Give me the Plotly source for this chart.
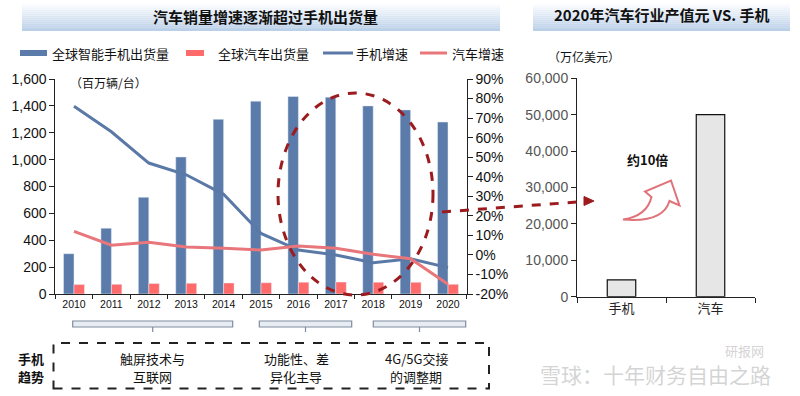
import plotly.graph_objects as go

# ---------------- data ----------------
years = ["2010", "2011", "2012", "2013", "2014", "2015", "2016", "2017", "2018", "2019", "2020"]
phone_ship = [300, 490, 720, 1020, 1300, 1435, 1470, 1465, 1400, 1370, 1280]
car_ship = [70, 72, 78, 80, 82, 84, 88, 89, 88, 87, 72]
phone_growth = [76, 63, 47, 41, 31, 11, 2.5, 0, -4, -2, -6.5]
car_growth = [12, 5, 6.5, 4, 3.4, 2.5, 4.6, 3.4, 0.3, -2, -15]

right_cats = ["手机", "汽车"]
right_vals = [4600, 50000]

left_yticks = [0, 200, 400, 600, 800, 1000, 1200, 1400, 1600]
pct_ticks = [-20, -10, 0, 10, 20, 30, 40, 50, 60, 70, 80, 90]
right_yticks = [0, 10000, 20000, 30000, 40000, 50000, 60000]

W, H = 800, 396
def X(x): return x / W
def Y(y): return 1 - y / H

CJK = "Noto Sans CJK SC"
NUM = "Liberation Sans"

fig = go.Figure()

fig.add_trace(go.Bar(x=years, y=phone_ship, marker_color="#5B7CAB", width=0.28, offset=-0.28,
                     xaxis="x", yaxis="y", showlegend=False))
fig.add_trace(go.Bar(x=years, y=car_ship, marker_color="#FF6B6B", width=0.28, offset=0.0,
                     xaxis="x", yaxis="y", showlegend=False))
fig.add_trace(go.Scatter(x=years, y=phone_growth, mode="lines", line=dict(color="#5A79A6", width=3),
                         xaxis="x", yaxis="y2", showlegend=False))
fig.add_trace(go.Scatter(x=years, y=car_growth, mode="lines", line=dict(color="#E8767A", width=3),
                         xaxis="x", yaxis="y2", showlegend=False))
fig.add_trace(go.Bar(x=right_cats, y=right_vals, width=0.32, marker=dict(color="#E6E6E6", line=dict(color="#111", width=1.2)),
                     xaxis="x3", yaxis="y3", showlegend=False))

shapes = []
annotations = []

def txt(t, x, y, size=13, bold=False, color="#111", family=CJK, xanchor="center"):
    annotations.append(dict(text=("<b>%s</b>" % t) if bold else t, x=X(x), y=Y(y), xref="paper", yref="paper",
                            xanchor=xanchor, yanchor="middle", showarrow=False,
                            font=dict(family=family, size=size, color=color)))

# title bands (stacked rectangles for a vertical gradient)
def band(x0, x1, y0, y1, n=14):
    c0 = (250, 252, 255)
    c1 = (186, 207, 232)
    h = (y1 - y0) / n
    for i in range(n):
        t = i / (n - 1)
        c = tuple(int(c0[k] + (c1[k] - c0[k]) * t) for k in range(3))
        shapes.append(dict(type="rect", xref="paper", yref="paper", x0=X(x0), x1=X(x1),
                           y0=Y(y0 + (i + 1) * h), y1=Y(y0 + i * h),
                           fillcolor="rgb(%d,%d,%d)" % c, line=dict(width=0), layer="below"))
band(22, 500, 4, 31)
band(533, 790, 4, 31)

txt("汽车销量增速逐渐超过手机出货量", 265, 16, size=15, bold=True)
txt("2020年汽车行业产值元 VS. 手机", 662, 15, size=15, bold=True)

# legend (manual)
ly = 53
shapes.append(dict(type="rect", xref="paper", yref="paper", x0=X(20), x1=X(47), y0=Y(56), y1=Y(50),
                   fillcolor="#5B7CAB", line=dict(width=0)))
txt("全球智能手机出货量", 50, ly, xanchor="left")
shapes.append(dict(type="rect", xref="paper", yref="paper", x0=X(186), x1=X(204), y0=Y(56), y1=Y(50),
                   fillcolor="#FF6B6B", line=dict(width=0)))
txt("全球汽车出货量", 216, ly, xanchor="left")
shapes.append(dict(type="line", xref="paper", yref="paper", x0=X(323), x1=X(353), y0=Y(53), y1=Y(53),
                   line=dict(color="#5A79A6", width=3)))
txt("手机增速", 354, ly, xanchor="left")
shapes.append(dict(type="line", xref="paper", yref="paper", x0=X(420), x1=X(447), y0=Y(53), y1=Y(53),
                   line=dict(color="#E8767A", width=3)))
txt("汽车增速", 450, ly, xanchor="left")

# units
txt("（百万辆/台）", 108, 83, size=12)
txt("（万亿美元）", 584, 57, size=12)

# dashed ellipse
shapes.append(dict(type="circle", xref="paper", yref="paper", x0=X(278), x1=X(433), y0=Y(295), y1=Y(93),
                   line=dict(color="#9B1B1E", width=3, dash="dash"), layer="above"))
# dashed arrow
shapes.append(dict(type="line", xref="paper", yref="paper", x0=X(442), y0=Y(212), x1=X(584), y1=Y(201.5),
                   line=dict(color="#9B1B1E", width=3, dash="dash")))
shapes.append(dict(type="path", xref="paper", yref="paper",
                   path="M %f,%f L %f,%f L %f,%f Z" % (X(594), Y(201), X(584), Y(196.5), X(584), Y(205.5)),
                   fillcolor="#9B1B1E", line=dict(color="#9B1B1E", width=1)))

# curved hollow arrow
pts = [
    ("M", (623, 219.5)),
    ("Q", (647, 216), (651.5, 197)),
    ("L", (645, 191.5)),
    ("L", (671, 180.5)),
    ("L", (679.5, 205.5)),
    ("L", (669.5, 201)),
    ("Q", (663, 223), (623, 219.5)),
]
p = ""
for seg in pts:
    cmd = seg[0]
    coords = " ".join("%f,%f" % (X(a), Y(b)) for a, b in seg[1:])
    p += cmd + " " + coords + " "
p += "Z"
shapes.append(dict(type="path", xref="paper", yref="paper", path=p, fillcolor="white",
                   line=dict(color="#E0737A", width=2)))

txt("约10倍", 647, 159, size=13, bold=True)

# brackets below x axis
for x0, x1 in [(72.7, 232.7), (259.3, 351.7), (373.3, 465.7)]:
    xc = (x0 + x1) / 2
    shapes.append(dict(type="path", xref="paper", yref="paper",
                       path="M %f,%f L %f,%f L %f,%f L %f,%f Z" % (X(x0), Y(321), X(x0), Y(327), X(x1), Y(327), X(x1), Y(321)),
                       fillcolor="#E8ECF3", line=dict(color="#7F8CA0", width=1.2)))
    shapes.append(dict(type="line", xref="paper", yref="paper", x0=X(xc), x1=X(xc), y0=Y(327), y1=Y(332),
                       line=dict(color="#7F8CA0", width=1.2)))

# dashed box
shapes.append(dict(type="rect", xref="paper", yref="paper", x0=X(53.5), x1=X(489), y0=Y(388.5), y1=Y(343),
                   line=dict(color="#222", width=2, dash="dash"), fillcolor="rgba(0,0,0,0)"))

txt("手机", 31, 358, bold=True)
txt("趋势", 31, 376, bold=True)
txt("触屏技术与", 152, 358)
txt("互联网", 152, 376)
txt("功能性、差", 296, 358)
txt("异化主导", 296, 376)
txt("4G/5G交接", 416, 358)
txt("的调整期", 416, 376)

# watermark
txt("雪球：十年财务自由之路", 655, 374, size=21, color="rgba(205,205,205,0.85)")
txt("研报网", 744, 350, size=13, color="rgba(200,200,200,0.8)")

fig.update_layout(
    width=W, height=H,
    margin=dict(l=0, r=0, t=0, b=0, pad=0, autoexpand=False),
    paper_bgcolor="white", plot_bgcolor="white",
    barmode="overlay",
    showlegend=False,
    shapes=shapes, annotations=annotations,
    xaxis=dict(domain=[X(55.3), X(466.7)], anchor="y", type="category", range=[-0.5, 10.5], automargin=False,
               showline=True, linecolor="#222", linewidth=1, ticks="outside", tickson="boundaries",
               ticklen=4, tickcolor="#222", showgrid=False, zeroline=False,
               tickfont=dict(family=NUM, size=10.5, color="#111")),
    yaxis=dict(domain=[Y(294), Y(79)], anchor="x", range=[0, 1600], tickvals=left_yticks, automargin=False,
               tickformat=",", showline=True, linecolor="#222", linewidth=1, ticks="outside", ticklen=5,
               tickcolor="#222", showgrid=False, zeroline=False,
               tickfont=dict(family=NUM, size=14, color="#111")),
    yaxis2=dict(overlaying="y", side="right", anchor="x", range=[-20, 90], tickvals=pct_ticks, automargin=False,
                ticktext=["%d%%" % v for v in pct_ticks], showline=True, linecolor="#222", linewidth=1,
                ticks="outside", ticklen=5, tickcolor="#222", showgrid=False, zeroline=False,
                tickfont=dict(family=NUM, size=14, color="#111")),
    xaxis3=dict(domain=[X(577), X(755)], anchor="y3", type="category", range=[-0.5, 1.5], automargin=False,
                showline=True, linecolor="#222", linewidth=1, ticks="outside", tickson="boundaries",
                ticklen=5, tickcolor="#222", showgrid=False, zeroline=False,
                tickfont=dict(family=CJK, size=13, color="#222")),
    yaxis3=dict(domain=[Y(296.7), Y(78.3)], anchor="x3", range=[0, 60000], tickvals=right_yticks, automargin=False,
                tickformat=",", showline=True, linecolor="#222", linewidth=1, ticks="outside", ticklen=5,
                tickcolor="#222", showgrid=False, zeroline=False,
                tickfont=dict(family=NUM, size=14, color="#555")),
)

fig.write_html("out.html", config={"displayModeBar": False},
               post_script="document.body.style.margin='0px';")
